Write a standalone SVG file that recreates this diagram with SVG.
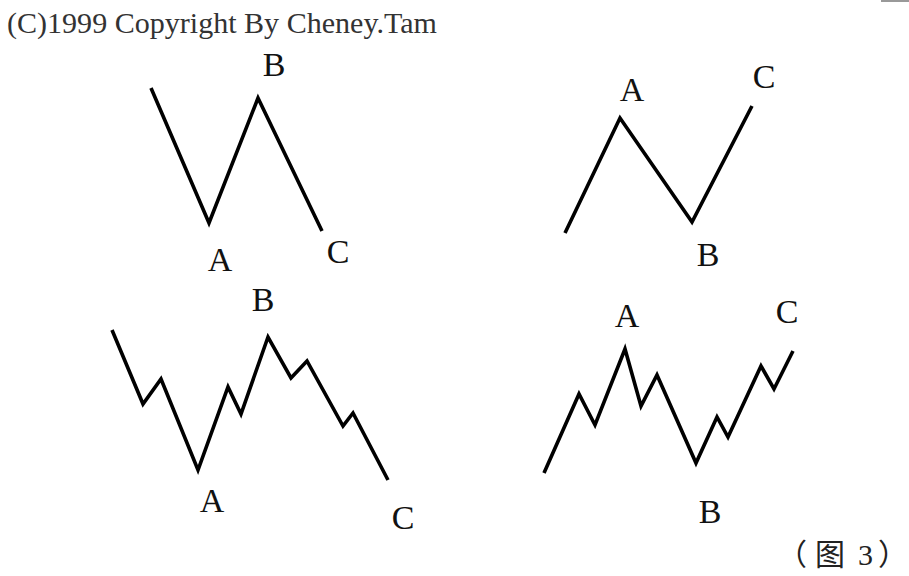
<svg xmlns="http://www.w3.org/2000/svg" width="909" height="576" viewBox="0 0 909 576">
<style>
.w{fill:none;stroke:#000;stroke-width:3.6;stroke-linejoin:miter;stroke-linecap:butt}
.l{font-family:"Liberation Serif","Times New Roman",serif;font-size:34px;fill:#111;text-anchor:middle}
.c{font-family:"Liberation Serif","Times New Roman",serif;font-size:29px;fill:#333}
.cap{font-family:"Liberation Serif","Noto Sans CJK SC",serif;font-size:30px;fill:#222}
.cj{font-family:"Noto Sans CJK SC",sans-serif}
</style>
<rect width="909" height="576" fill="#fff"/>
<line x1="881" y1="1" x2="909" y2="1" stroke="#999" stroke-width="2"/>
<text class="c" x="7" y="33" textLength="430" lengthAdjust="spacingAndGlyphs">(C)1999 Copyright By Cheney.Tam</text>
<g id="wave-top-left">
<polyline class="w" points="151,88 209,223 258,98 322,231"/>
<text class="l" x="220" y="271">A</text>
<text class="l" x="274" y="76">B</text>
<text class="l" x="338" y="263">C</text>
</g>
<g id="wave-top-right">
<polyline class="w" points="565,233 620,118 692,222 752,106"/>
<text class="l" x="632" y="101">A</text>
<text class="l" x="708" y="266">B</text>
<text class="l" x="764" y="88">C</text>
</g>
<g id="wave-bottom-left">
<polyline class="w" points="112,330 143,404 161,379 198,470 228,387 241,414 268,337 291,378 307,361 343,426 353,413 388,480"/>
<text class="l" x="212" y="512">A</text>
<text class="l" x="263" y="311">B</text>
<text class="l" x="403" y="529">C</text>
</g>
<g id="wave-bottom-right">
<polyline class="w" points="544,473 579,394 595,425 625,349 641,406 657,375 696,463 717,417 728,437 761,366 774,389 793,351"/>
<text class="l" x="627" y="327">A</text>
<text class="l" x="710" y="523">B</text>
<text class="l" x="787" y="323">C</text>
</g>
<text class="cap" y="565"><tspan class="cj" x="777">（</tspan><tspan class="cj" x="815">图</tspan><tspan x="858">3</tspan><tspan class="cj" x="878">）</tspan></text>
</svg>
